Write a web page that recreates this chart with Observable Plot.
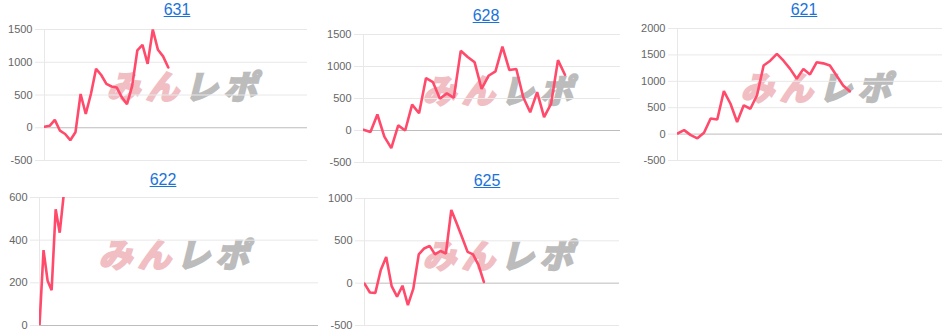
<!DOCTYPE html>
<html><head><meta charset="utf-8">
<script src="https://cdn.jsdelivr.net/npm/d3@7"></script>
<script src="https://cdn.jsdelivr.net/npm/@observablehq/plot@0.6"></script>
<style>
body{margin:0;background:#fff;}
#root{position:relative;width:949px;height:335px;overflow:hidden;font-family:"Liberation Sans",Arial,sans-serif;}
.title{position:absolute;transform:translateX(-50%);font-size:16px;line-height:18px;color:#1a73d9;text-decoration:underline;white-space:nowrap;cursor:pointer;}
.wm{position:absolute;transform:translate(-50%,-50%) skewX(-14deg);font-family:"Noto Sans CJK JP","Noto Sans CJK SC",sans-serif;font-weight:700;font-size:33px;letter-spacing:6px;white-space:nowrap;line-height:1;}
.wm .a{color:#f0bec3;-webkit-text-stroke:2.5px #f0bec3;}
.wm .b{color:#bcbcbc;-webkit-text-stroke:2.5px #bcbcbc;}
svg{position:absolute;overflow:visible;}
</style></head><body><div id="root"></div>
<script>
// ---- data ----
const titles = ["631", "628", "621", "622", "625"];
const s631 = [15, 30, 120, -45, -95, -190, -70, 515, 210, 515, 900, 805, 670, 630, 615, 465, 360, 640, 1180, 1265, 975, 1500, 1190, 1090, 920];
const s628 = [10, -25, 250, -95, -275, 80, 0, 405, 270, 820, 755, 495, 580, 510, 1245, 1150, 1065, 650, 855, 925, 1310, 945, 960, 520, 285, 600, 210, 415, 1100, 870];
const s621 = [12, 75, -20, -80, 25, 295, 275, 815, 575, 230, 545, 480, 735, 1300, 1390, 1520, 1390, 1235, 1050, 1235, 1130, 1360, 1340, 1300, 1110, 920, 810];
const s622 = [0, 353, 210, 165, 545, 435, 615, 760];
const s625 = [-5, -110, -115, 155, 310, -35, -160, -30, -260, -65, 340, 410, 440, 340, 380, 350, 865, 705, 540, 370, 340, 215, 15];
const ticks631 = [-500, 0, 500, 1000, 1500];
const ticks628 = [-500, 0, 500, 1000, 1500];
const ticks621 = [-500, 0, 500, 1000, 1500, 2000];
const ticks622 = [0, 200, 400, 600];
const ticks625 = [-500, 0, 500, 1000];
const wmA = "みん", wmB = "レポ";

// ---- layout ----
const charts = [
  {title: titles[0], values: s631, ticks: ticks631, xMax: 51, left: 0,   top: 0,   width: 316, height: 168, mL: 44, mR: 9,  mT: 29, mB: 8,  tx: 177, ty: 10, wx: 188, wy: 85},
  {title: titles[1], values: s628, ticks: ticks628, xMax: 37, left: 316, top: 0,   width: 316, height: 170, mL: 47, mR: 12, mT: 34, mB: 8,  tx: 486, ty: 16, wx: 504, wy: 89},
  {title: titles[2], values: s621, ticks: ticks621, xMax: 40, left: 632, top: 0,   width: 317, height: 168, mL: 45, mR: 7,  mT: 28, mB: 8,  tx: 804, ty: 10, wx: 822, wy: 86},
  {title: titles[3], values: s622, ticks: ticks622, xMax: 69, left: 0,   top: 165, width: 320, height: 170, mL: 39, mR: 2,  mT: 32, mB: 10, tx: 163, ty: 180, wx: 180, wy: 253},
  {title: titles[4], values: s625, ticks: ticks625, xMax: 47, left: 316, top: 165, width: 316, height: 170, mL: 48, mR: 13, mT: 33, mB: 10, tx: 487, ty: 181, wx: 504, wy: 254}
];

const root = document.getElementById("root");
for (const c of charts) {
  const wm = document.createElement("div");
  wm.className = "wm";
  wm.style.left = c.wx + "px";
  wm.style.top = c.wy + "px";
  wm.innerHTML = `<span class="a">${wmA}</span><span class="b">${wmB}</span>`;
  root.appendChild(wm);

  const yMin = d3.min(c.ticks), yMax = d3.max(c.ticks);
  const svg = Plot.plot({
    width: c.width, height: c.height,
    marginLeft: c.mL, marginRight: c.mR, marginTop: c.mT, marginBottom: c.mB,
    style: {background: "transparent", fontSize: "11px", fontFamily: "'Liberation Sans', Arial, sans-serif", color: "#666"},
    x: {domain: [0, c.xMax], axis: null},
    y: {domain: [yMin, yMax], axis: null},
    marks: [
      Plot.ruleY(c.ticks.filter(t => t !== 0), {stroke: "#e8e8e8"}),
      Plot.ruleY([0], {stroke: "#bdbdbd"}),
      Plot.ruleX([0], {y1: yMin, y2: yMax, stroke: "#e8e8e8"}),
      Plot.lineY(c.values, {x: (d, i) => i, y: d => d, stroke: "#ff4a6b", strokeWidth: 2.6, strokeLinejoin: "miter", clip: true}),
      Plot.axisY(c.ticks, {tickSize: 9, tickPadding: 3, stroke: "#e8e8e8", fill: "#666", tickFormat: d => String(d)})
    ]
  });
  svg.style.left = c.left + "px";
  svg.style.top = c.top + "px";
  root.appendChild(svg);

  const t = document.createElement("a");
  t.className = "title";
  t.textContent = c.title;
  t.style.left = c.tx + "px";
  t.style.top = (c.ty - 9) + "px";
  root.appendChild(t);
}
</script>
</body></html>
